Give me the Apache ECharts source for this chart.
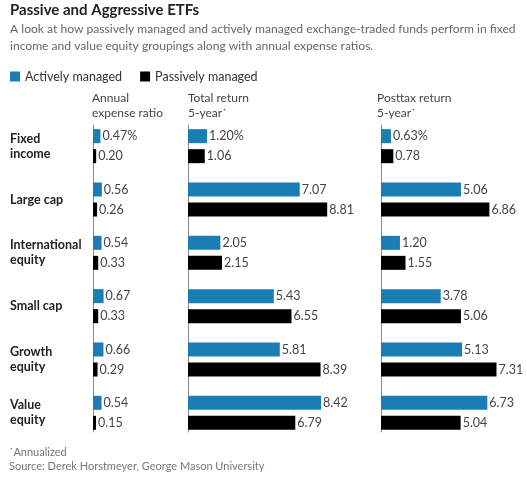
<!DOCTYPE html>
<html><head><meta charset="utf-8">
<script src="https://cdn.jsdelivr.net/npm/echarts@6/dist/echarts.min.js"></script>
<style>html,body{margin:0;padding:0;background:#fff}#c{width:527px;height:480px}</style>
</head><body><div id="c"></div>
<script>
const categories = ['Fixed\nincome','Large cap','International\nequity','Small cap','Growth\nequity','Value\nequity'];
const expenseActive = [0.47,0.56,0.54,0.67,0.66,0.54];
const expensePassive = [0.20,0.26,0.33,0.33,0.29,0.15];
const totalActive = [1.20,7.07,2.05,5.43,5.81,8.42];
const totalPassive = [1.06,8.81,2.15,6.55,8.39,6.79];
const posttaxActive = [0.63,5.06,1.20,3.78,5.13,6.73];
const posttaxPassive = [0.78,6.86,1.55,5.06,7.31,5.04];
const columnTitles = ['Annual\nexpense ratio','Total return\n5-year\u02D9','Posttax return\n5-year\u02D9'];

const BLUE = '#1a7db4', BLACK = '#000';
const FONT = 'Lato';
const TOP = 119.5, HEIGHT = 320;
const PX = 15.8;
const panels = [
  {left: 93, width: PX*5, max: 5},
  {left: 188, width: PX*10, max: 10},
  {left: 381, width: PX*9, max: 9}
];
const data = [[expenseActive, expensePassive],[totalActive,totalPassive],[posttaxActive,posttaxPassive]];

const chart = echarts.init(document.getElementById('c'), null, {renderer:'canvas'});
const colTitle = {fontFamily:FONT,fontSize:12,fontWeight:'normal',color:'#444',lineHeight:14.5};

// bar grids (0..2) and axis-line grids (3..5)
const grid = panels.map(g=>({left:g.left, width:g.width, top:TOP, height:HEIGHT}))
  .concat(panels.map(g=>({left:g.left, width:g.width, top:125, height:307})));
const xAxis = grid.map((g,i)=>({type:'value', gridIndex:i, min:0, max: panels[i%3].max, show:false}));
const yAxis = panels.map((g,i)=>({type:'category', gridIndex:i, data:categories, inverse:true,
    axisLine:{show:false}, axisTick:{show:false},
    axisLabel: i===0 ? {show:true, align:'left', margin:83, fontFamily:FONT, fontSize:12.5, fontWeight:'bold', color:'#222', lineHeight:15} : {show:false}
  })).concat(panels.map((g,i)=>({type:'category', gridIndex:i+3, data:categories, inverse:true,
    axisLine:{show:true, lineStyle:{color:'#888', width:1}}, axisTick:{show:false}, axisLabel:{show:false}})));

const option = {
  animation:false,
  textStyle:{fontFamily:FONT},
  title:[
    {text:'Passive and Aggressive ETFs', left:5, top:-2, textStyle:{fontFamily:FONT,fontSize:15,fontWeight:'bold',color:'#222'}},
    {text:'A look at how passively managed and actively managed exchange-traded funds perform in fixed\nincome and value equity groupings along with annual expense ratios.', left:5, top:16,
     textStyle:{fontFamily:FONT,fontSize:12.1,fontWeight:'normal',color:'#666',lineHeight:16.5}},
    {text:columnTitles[0], left:87, top:86, textStyle:colTitle},
    {text:columnTitles[1], left:183, top:86, textStyle:colTitle},
    {text:columnTitles[2], left:372, top:86, textStyle:colTitle},
    {text:'\u02D9Annualized\nSource: Derek Horstmeyer, George Mason University', left:4, top:440,
     textStyle:{fontFamily:FONT,fontSize:11,fontWeight:'normal',color:'#777',lineHeight:14}}
  ],
  legend:{left:5, top:65, itemWidth:10, itemHeight:10, itemGap:18, icon:'rect',
    textStyle:{fontFamily:FONT,fontSize:12.5,color:'#333'},
    data:['Actively managed','Passively managed']},
  grid, xAxis, yAxis,
  series: []
};
data.forEach((pair,i)=>{
  pair.forEach((vals,k)=>{
    option.series.push({
      name: k===0 ? 'Actively managed' : 'Passively managed',
      type:'bar', xAxisIndex:i, yAxisIndex:i, data:vals,
      barWidth:14, barGap:'43%', barMinHeight:3, z:3,
      itemStyle:{color: k===0 ? BLUE : BLACK},
      label:{show:true, position:'right', distance:2, fontFamily:FONT, fontSize:12.5, color:'#444',
        formatter: p => p.value.toFixed(2) + (k===0 && p.dataIndex===0 ? '%' : '')}
    });
  });
});
chart.setOption(option);
</script></body></html>
